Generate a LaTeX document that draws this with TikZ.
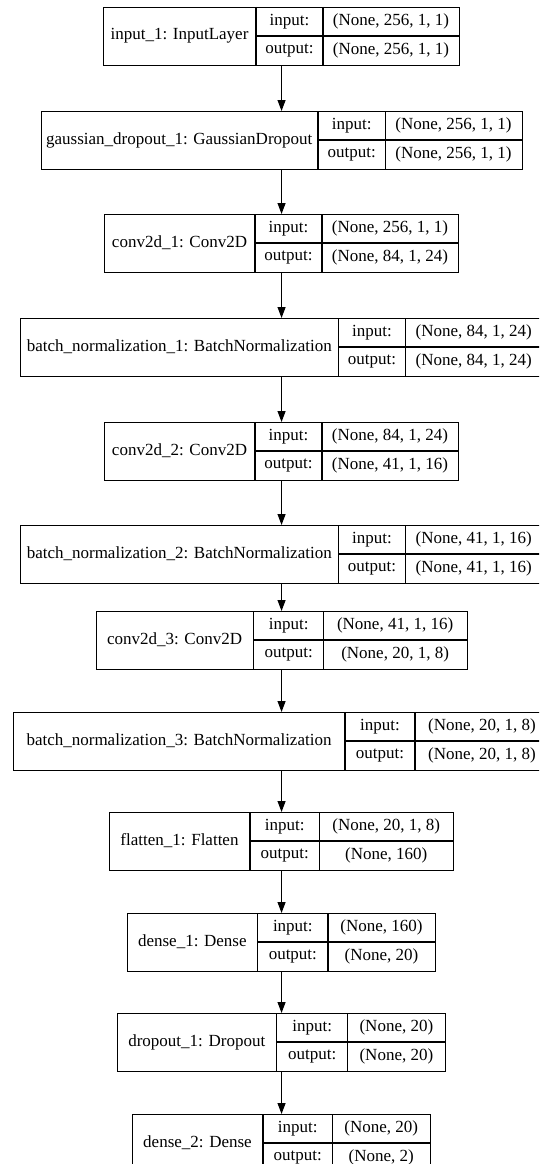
\documentclass[tikz,border=0pt]{standalone}
\usepackage{fontspec}
\setmainfont{Liberation Serif}
\usetikzlibrary{arrows.meta}

% one record: name, top, left, div1, div2, label, input shape, output shape
% (every record is centred on x = 281)
\newcommand{\layer}[8]{%
  \node[layerbox, minimum width={(562-2*#3)*1pt}, anchor=north west] (#1) at (#3,#2) {};
  \draw[cell] (#4,#2) -- ++(0,58);
  \draw[cell] (#5,#2) -- ++(0,58);
  \draw[cell] (#4,#2+29) -- (562-#3,#2+29);
  \node[celltext] (#1-name) at ({(#3+#4)/2},#2+29) {#6};
  \node[celltext] (#1-inkey) at ({(#4+#5)/2},#2+14.5) {input:};
  \node[celltext] (#1-outkey) at ({(#4+#5)/2},#2+43.5) {output:};
  \node[celltext] (#1-in) at ({(#5+562-#3)/2},#2+14.5) {#7};
  \node[celltext] (#1-out) at ({(#5+562-#3)/2},#2+43.5) {#8};
}

\begin{document}
\begin{tikzpicture}[x=1pt,y=-1pt]

    \tikzset{
      layerbox/.style={
        draw,
        line width=1.1pt,
        inner sep=0pt,
        minimum height=58pt,
      },
      cell/.style={line width=1.1pt},
      celltext/.style={
        inner sep=0pt,
        font=\fontsize{17}{20}\selectfont,
      },
      flow/.style={line width=1.1pt, -{Triangle[length=11pt,width=8pt]}},
    }
    \useasboundingbox (0,0) rectangle (539,1164);
    \clip (0,0) rectangle (539,1164);

	\layer{inp}{7}{103}{256}{323}{input\_1: InputLayer}{(None, 256, 1, 1)}{(None, 256, 1, 1)}
	\layer{gdrop}{111}{40.5}{318}{385.6}{gaussian\_dropout\_1: GaussianDropout}{(None, 256, 1, 1)}{(None, 256, 1, 1)}
	\layer{convA}{214}{104}{255}{322}{conv2d\_1: Conv2D}{(None, 256, 1, 1)}{(None, 84, 1, 24)}
	\layer{bnA}{318}{20}{338.5}{405.5}{batch\_normalization\_1: BatchNormalization}{(None, 84, 1, 24)}{(None, 84, 1, 24)}
	\layer{convB}{422}{104}{255}{322}{conv2d\_2: Conv2D}{(None, 84, 1, 24)}{(None, 41, 1, 16)}
	\layer{bnB}{525}{20}{338.5}{405.5}{batch\_normalization\_2: BatchNormalization}{(None, 41, 1, 16)}{(None, 41, 1, 16)}
	\layer{convC}{611}{95.5}{253.6}{323.7}{conv2d\_3: Conv2D}{(None, 41, 1, 16)}{(None, 20, 1, 8)}
	\layer{bnC}{712}{13}{345}{415}{batch\_normalization\_3: BatchNormalization}{(None, 20, 1, 8)}{(None, 20, 1, 8)}
	\layer{flat}{812}{109}{250}{319.6}{flatten\_1: Flatten}{(None, 20, 1, 8)}{(None, 160)}
	\layer{denseA}{913}{127}{257.7}{328}{dense\_1: Dense}{(None, 160)}{(None, 20)}
	\layer{drop}{1013}{117}{276.6}{347.8}{dropout\_1: Dropout}{(None, 20)}{(None, 20)}
	\layer{denseB}{1114}{132}{263}{332.6}{dense\_2: Dense}{(None, 20)}{(None, 2)}

	\draw[flow] (inp.south) -- (gdrop.north);
	\draw[flow] (gdrop.south) -- (convA.north);
	\draw[flow] (convA.south) -- (bnA.north);
	\draw[flow] (bnA.south) -- (convB.north);
	\draw[flow] (convB.south) -- (bnB.north);
	\draw[flow] (bnB.south) -- (convC.north);
	\draw[flow] (convC.south) -- (bnC.north);
	\draw[flow] (bnC.south) -- (flat.north);
	\draw[flow] (flat.south) -- (denseA.north);
	\draw[flow] (denseA.south) -- (drop.north);
	\draw[flow] (drop.south) -- (denseB.north);

\end{tikzpicture}
\end{document}
